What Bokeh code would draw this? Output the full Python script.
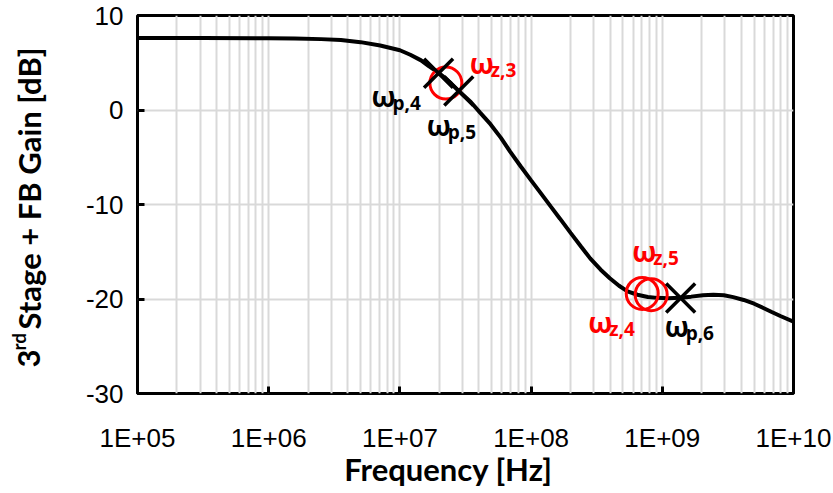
from bokeh.plotting import figure
from bokeh.models import FixedTicker, ColumnDataSource
from bokeh.layouts import row, column
from bokeh.core.properties import value
from bokeh.embed import file_html
from bokeh.resources import INLINE
import math

# Gain response of the 3rd stage plus feedback network
freq_hz = [1.0e5, 3.16e5, 1.0e6, 1.58e6, 2.51e6, 3.55e6, 5.01e6, 7.08e6,
           1.0e7, 1.2e7, 1.45e7, 1.66e7, 1.95e7, 2.19e7, 2.45e7, 2.88e7,
           3.47e7, 4.07e7, 4.9e7, 5.89e7, 6.92e7, 8.32e7, 1.0e8, 1.2e8,
           1.41e8, 1.66e8, 2.0e8, 2.4e8, 2.82e8, 3.39e8, 3.98e8, 4.68e8,
           5.43e8, 6.46e8, 7.76e8, 9.12e8, 1.1e9, 1.38e9, 1.66e9, 2.04e9,
           2.45e9, 2.95e9, 3.47e9, 4.17e9, 5.01e9, 5.89e9, 6.76e9, 7.94e9,
           1.0e10]
gain_db = [7.62, 7.62, 7.60, 7.57, 7.50, 7.40, 7.18, 6.83,
           6.32, 5.85, 5.25, 4.65, 3.98, 3.42, 2.82, 1.87,
           0.85, -0.25, -1.50, -2.95, -4.40, -5.95, -7.45, -8.90,
           -10.20, -11.50, -13.00, -14.45, -15.70, -16.90, -17.80, -18.60,
           -19.20, -19.55, -19.78, -19.88, -19.92, -19.87, -19.75, -19.60,
           -19.55, -19.60, -19.80, -20.10, -20.50, -20.95, -21.35, -21.80,
           -22.40]

# Poles (crosses) and zeros (circles)
pole_names = ["p,4", "p,5", "p,6"]
pole_freq = [1.97e7, 2.81e7, 1.38e9]
pole_gain = [3.88, 2.01, -19.9]

zero_names = ["z,3", "z,4", "z,5"]
zero_freq = [2.24e7, 7.03e8, 8.23e8]
zero_gain = [2.85, -19.41, -19.55]

x_ticks = [1e5, 1e6, 1e7, 1e8, 1e9, 1e10]
x_tick_labels = ["1E+05", "1E+06", "1E+07", "1E+08", "1E+09", "1E+10"]
y_ticks = [-30, -20, -10, 0, 10]
y_tick_labels = ["-30", "-20", "-10", "0", "10"]

x_minor = [m * d for d in x_ticks[:-1] for m in range(2, 10)]

# Page layout (pixels): a narrow strip on the left for the rotated
# y title, the chart itself, and a strip below it for the x title.
W, H = 833, 493
STRIP_W = 60
CHART_H = 455
LEFT, RIGHT, TOP, BOTTOM = 137, 793, 15, 394

p = figure(width=W - STRIP_W, height=CHART_H, x_axis_type="log",
           x_range=(1e5, 1e10), y_range=(-30, 10), output_backend="svg",
           toolbar_location=None, title=None,
           min_border_left=LEFT - STRIP_W, min_border_right=W - RIGHT,
           min_border_top=TOP, min_border_bottom=CHART_H - BOTTOM)
p.background_fill_color = "white"
p.border_fill_color = "white"
p.outline_line_color = "black"
p.outline_line_width = 3

p.xaxis.ticker = FixedTicker(ticks=x_ticks, minor_ticks=x_minor)
p.yaxis.ticker = FixedTicker(ticks=y_ticks)
p.xaxis.major_label_overrides = dict(zip(x_ticks, x_tick_labels))
p.yaxis.major_label_overrides = dict(zip(y_ticks, y_tick_labels))

for ax in (p.xaxis, p.yaxis):
    ax.axis_line_color = None
    ax.major_tick_in = 7
    ax.major_tick_out = 0
    ax.major_tick_line_width = 3
    ax.major_tick_line_color = "black"
    ax.minor_tick_line_color = None
    ax.major_label_text_font = "Liberation Sans"
    ax.major_label_text_font_size = "26px"
    ax.major_label_text_color = "black"

p.xaxis.major_label_standoff = 25
p.yaxis.major_label_standoff = 14

grid_color = "#d9d9d9"
p.xgrid.grid_line_color = grid_color
p.xgrid.grid_line_width = 2
p.xgrid.minor_grid_line_color = grid_color
p.xgrid.minor_grid_line_width = 2
p.ygrid.grid_line_color = grid_color
p.ygrid.grid_line_width = 2

p.line(freq_hz, gain_db, line_color="black", line_width=4)

p.scatter(zero_freq, zero_gain, marker="circle", size=32, fill_color=None,
          line_color="#ff0000", line_width=3)
p.scatter(pole_freq, pole_gain, marker="x", size=41, line_color="black",
          line_width=3.5)

# ω labels with subscripts, placed by pixel offset from each marker
ann = ColumnDataSource(dict(
    x=pole_freq + zero_freq,
    y=pole_gain + zero_gain,
    sub=pole_names + zero_names,
    color=["black"] * 3 + ["#ff0000"] * 3,
    dx=[-67, -32, -16, 24, -54, -19],
    dy=[23, 34, 28, -20, 29, -44],
))
ann.data["sdx"] = [d + 21 for d in ann.data["dx"]]
ann.data["sdy"] = [d + 7 for d in ann.data["dy"]]
ann.data["omega"] = ["ω"] * 6

p.text(x="x", y="y", text="omega", x_offset="dx", y_offset="dy",
       text_color="color", text_font=value("Open Sans"),
       text_font_style="bold", text_font_size="28px", text_align="left",
       text_baseline="alphabetic", source=ann)
p.text(x="x", y="y", text="sub", x_offset="sdx", y_offset="sdy",
       text_color="color", text_font=value("Open Sans"),
       text_font_style="bold", text_font_size="19px", text_align="left",
       text_baseline="alphabetic", source=ann)


def text_strip(width, height, x0, y0, pad_left=0, pad_right=0):
    """A blank figure whose data units are page pixels (y measured downward).

    pad_left / pad_right are empty borders; the frame between them spans
    page x from x0 + pad_left to x0 + width - pad_right.
    """
    f = figure(width=width, height=height,
               x_range=(x0 + pad_left, x0 + width - pad_right),
               y_range=(-(y0 + height), -y0), output_backend="svg",
               toolbar_location=None, title=None, min_border=0,
               min_border_left=pad_left, min_border_right=pad_right,
               x_axis_location=None, y_axis_location=None)
    f.outline_line_color = None
    f.background_fill_color = "white"
    f.border_fill_color = "white"
    f.grid.visible = False
    return f


title_font = dict(text_font=value("Lato"), text_font_style="bold",
                  text_color="black", text_baseline="alphabetic")

# Rotated y-axis title with superscript "rd"
ystrip = text_strip(STRIP_W, H, 0, 0)
ystrip.text(x=[28], y=[-367], text=["3"], angle=math.pi / 2,
            text_font_size="31px", text_align="left", **title_font)
ystrip.text(x=[18], y=[-350], text=["rd"], angle=math.pi / 2,
            text_font_size="19px", text_align="left", **title_font)
ystrip.text(x=[28], y=[-329], text=["Stage + FB Gain [dB]"],
            angle=math.pi / 2, text_font_size="31px", text_align="left",
            **title_font)

# x-axis title; its frame lines up with the chart frame above it
xstrip = text_strip(W - STRIP_W, H - CHART_H, STRIP_W, CHART_H,
                    pad_left=LEFT - STRIP_W, pad_right=W - RIGHT)
xstrip.text(x=[448], y=[-468], text=["Frequency [Hz]"],
            text_font_size="31px", text_align="center", **title_font)

layout = row(ystrip, column(p, xstrip, spacing=0), spacing=0)

open("out.html", "w").write(file_html(layout, INLINE))
